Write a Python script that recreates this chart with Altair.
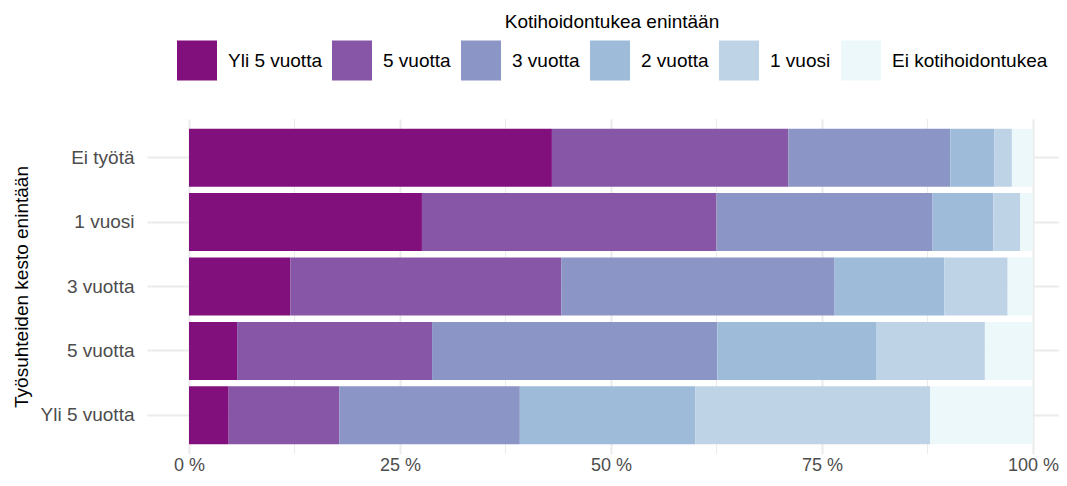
import altair as alt
import pandas as pd

# ---- data ----
work_cats = ["Ei työtä", "1 vuosi", "3 vuotta", "5 vuotta", "Yli 5 vuotta"]
care_cats = ["Yli 5 vuotta", "5 vuotta", "3 vuotta", "2 vuotta", "1 vuosi", "Ei kotihoidontukea"]
care_colors = ["#810F7C", "#8856A7", "#8C96C6", "#9EBCDA", "#BFD3E6", "#EDF8FB"]

# share (%) of each care category, per work category (same order as work_cats)
yli5 = [43.0, 27.6, 12.0, 5.7, 4.7]
v5 = [28.0, 34.9, 32.1, 23.1, 13.1]
v3 = [19.2, 25.6, 32.4, 33.8, 21.4]
v2 = [5.2, 7.2, 13.0, 18.8, 20.8]
v1 = [2.1, 3.2, 7.5, 12.9, 27.8]
ei = [2.5, 1.5, 3.0, 5.7, 12.2]
series = [yli5, v5, v3, v2, v1, ei]

major_ticks = [0, 25, 50, 75, 100]
minor_ticks = [12.5, 37.5, 62.5, 87.5]

rows = []
for ci, (cat, vals) in enumerate(zip(care_cats, series)):
    for wi, w in enumerate(work_cats):
        rows.append({"work": w, "care": cat, "pct": vals[wi], "order": ci})
df = pd.DataFrame(rows)
minor_df = pd.DataFrame({"v": minor_ticks})

FONT = "Liberation Sans"
GRID = "#EBEBEB"
xscale = alt.Scale(domain=[-4.976, 103.081], nice=False, zero=False)

x_axis = alt.Axis(
    values=major_ticks,
    labelExpr="datum.value + ' %'",
    grid=True,
    gridColor=GRID,
    gridWidth=2,
    domain=False,
    ticks=False,
    tickSize=0,
    labelPadding=2,
    labelFlush=False,
    labelFont=FONT,
    labelFontSize=18,
    labelColor="#4D4D4D",
)

minor = alt.Chart(minor_df).mark_rule(color=GRID, strokeWidth=1).encode(
    x=alt.X("v:Q", scale=xscale, title=None, axis=x_axis)
)

bars = alt.Chart(df).mark_bar(strokeWidth=0).encode(
    x=alt.X("pct:Q", stack="zero", scale=xscale, title=None, axis=x_axis),
    y=alt.Y(
        "work:N",
        sort=work_cats,
        scale=alt.Scale(paddingInner=0.1, paddingOuter=0.15),
        title="Työsuhteiden kesto enintään",
        axis=alt.Axis(
            grid=True,
            gridColor=GRID,
            gridWidth=2,
            bandPosition=0.5,
            domain=False,
            ticks=False,
            tickSize=0,
            labelPadding=13,
            labelFont=FONT,
            labelFontSize=19,
            labelColor="#4D4D4D",
            titleFont=FONT,
            titleFontSize=19,
            titleFontWeight="normal",
            titleColor="#000000",
            titleAngle=270,
            titleBaseline="alphabetic",
            titleAlign="center",
            titleX=-119.5,
            titleY=167.5,
        ),
    ),
    color=alt.Color(
        "care:N",
        sort=care_cats,
        scale=alt.Scale(domain=care_cats, range=care_colors),
        title="Kotihoidontukea enintään",
        legend=alt.Legend(
            orient="none",
            legendX=30,
            legendY=-106.4,
            direction="horizontal",
            columns=6,
            symbolType="square",
            symbolSize=1600,
            symbolStrokeWidth=0,
            symbolOpacity=1,
            labelFont=FONT,
            labelFontSize=19,
            labelColor="#000000",
            labelOffset=11,
            labelLimit=0,
            columnPadding=10,
            titleFont=FONT,
            titleFontSize=19,
            titleFontWeight="normal",
            titleColor="#000000",
            titleAnchor="middle",
            titlePadding=9,
            titleLimit=2000,
            padding=0,
        ),
    ),
    order=alt.Order("order:Q", sort="ascending"),
)

chart = (
    alt.layer(minor, bars)
    .properties(
        width=912,
        height=335,
        autosize=alt.AutoSizeParams(type="none"),
        padding={"left": 139, "top": 111, "right": 0, "bottom": 24},
        background="#FFFFFF",
    )
    .configure_view(stroke="transparent", strokeWidth=0)
)

chart.save("out.html", embed_options={"renderer": "svg", "actions": False})
